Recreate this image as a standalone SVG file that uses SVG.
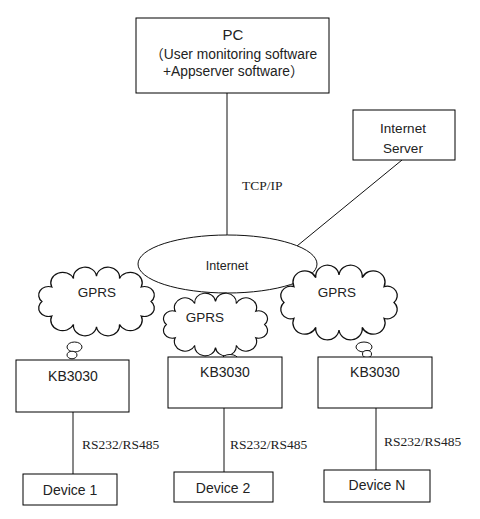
<svg xmlns="http://www.w3.org/2000/svg" xmlns:xlink="http://www.w3.org/1999/xlink" width="480" height="519" viewBox="0 0 480 519">
<style>
.box{fill:#fff;stroke:#000;stroke-width:1}
.ln{stroke:#111;stroke-width:1;fill:none}
.cl{fill:#fff;stroke:#111;stroke-width:1;vector-effect:non-scaling-stroke}
.bub{fill:#fff;stroke:#111;stroke-width:1}
.sans{font-family:"Liberation Sans","Noto Sans CJK SC",Arial,sans-serif;fill:#222}
.serif{font-family:"Liberation Serif","Times New Roman",serif;fill:#222;font-size:13.5px}
</style>
<defs>
<path id="cloud" d="M -42 0 A 7.5 7.5 0 0 1 -34.4 -12.6 A 1 1 0 0 1 -17.7 -19.9 A 1 1 0 0 1 0 -22 A 1 1 0 0 1 17.7 -19.9 A 1 1 0 0 1 34.4 -12.6 A 7.5 7.5 0 0 1 42 0 A 7.5 7.5 0 0 1 34.4 12.6 A 1 1 0 0 1 17.7 19.9 A 1 1 0 0 1 0 22 A 1 1 0 0 1 -17.7 19.9 A 1 1 0 0 1 -34.4 12.6 A 7.5 7.5 0 0 1 -42 0 Z"/>
</defs>
<rect width="480" height="519" fill="#fff"/>

<g id="connectors">
<line class="ln" x1="227" y1="93" x2="227" y2="235"/>
<line class="ln" x1="402" y1="160" x2="297" y2="246"/>
<line class="ln" x1="73" y1="412" x2="73" y2="474"/>
<line class="ln" x1="224" y1="408" x2="224" y2="472"/>
<line class="ln" x1="376" y1="408" x2="376" y2="470"/>
<text class="serif" x="242" y="190">TCP/IP</text>
<text class="serif" x="82" y="449">RS232/RS485</text>
<text class="serif" x="230" y="449">RS232/RS485</text>
<text class="serif" x="384" y="446">RS232/RS485</text>
</g>

<g id="internet">
<ellipse class="ln" cx="227.5" cy="264" rx="89.5" ry="29"/>
<text class="sans" x="227" y="270" font-size="12.5" text-anchor="middle">Internet</text>
</g>

<g id="pc">
<rect class="box" x="136" y="18" width="193" height="75"/>
<text class="sans" x="233" y="40" font-size="15" text-anchor="middle">PC</text>
<text class="sans" x="150" y="59" font-size="13.8">（User monitoring software</text>
<text class="sans" x="163" y="76" font-size="13.8">+Appserver software）</text>
</g>

<g id="internet-server">
<rect class="box" x="353" y="110" width="102" height="50"/>
<text class="sans" x="403" y="133" font-size="13.5" text-anchor="middle">Internet</text>
<text class="sans" x="403" y="153" font-size="13.5" text-anchor="middle">Server</text>
</g>

<g id="gprs-1">
<use xlink:href="#cloud" class="cl" transform="translate(96.5 301.5) scale(1.3 1.15)"/>
<ellipse class="bub" cx="74.5" cy="347" rx="7.5" ry="5"/>
<ellipse class="bub" cx="72" cy="355" rx="5" ry="3.8"/>
<text class="sans" x="97" y="297" font-size="13.5" text-anchor="middle">GPRS</text>
</g>

<g id="gprs-2">
<use xlink:href="#cloud" class="cl" transform="translate(215.5 324.5) scale(1.17 1.05)"/>
<ellipse class="bub" cx="230" cy="359" rx="8" ry="4.5"/>
<ellipse class="bub" cx="232" cy="360" rx="4" ry="2.5"/>
<text class="sans" x="205" y="322" font-size="13.5" text-anchor="middle">GPRS</text>
</g>

<g id="gprs-3">
<use xlink:href="#cloud" class="cl" transform="translate(339 302.5) scale(1.31 1.25)"/>
<ellipse class="bub" cx="364" cy="347" rx="8" ry="5"/>
<ellipse class="bub" cx="367" cy="354" rx="4.5" ry="3.5"/>
<text class="sans" x="337" y="297" font-size="13.5" text-anchor="middle">GPRS</text>
</g>

<g id="kb3030-1">
<rect class="box" x="16" y="360" width="113" height="52"/>
<text class="sans" x="73" y="381" font-size="14" text-anchor="middle">KB3030</text>
</g>
<g id="kb3030-2">
<rect class="box" x="168" y="357" width="114" height="51"/>
<text class="sans" x="225" y="377" font-size="14" text-anchor="middle">KB3030</text>
</g>
<g id="kb3030-3">
<rect class="box" x="318" y="357" width="114" height="51"/>
<text class="sans" x="375" y="377" font-size="14" text-anchor="middle">KB3030</text>
</g>

<g id="device-1">
<rect class="box" x="23" y="474" width="94" height="31"/>
<text class="sans" x="70" y="495" font-size="14" text-anchor="middle">Device 1</text>
</g>
<g id="device-2">
<rect class="box" x="174" y="472" width="99" height="30"/>
<text class="sans" x="223" y="493" font-size="14" text-anchor="middle">Device 2</text>
</g>
<g id="device-n">
<rect class="box" x="324" y="470" width="106" height="32"/>
<text class="sans" x="377" y="490" font-size="14" text-anchor="middle">Device N</text>
</g>
</svg>
